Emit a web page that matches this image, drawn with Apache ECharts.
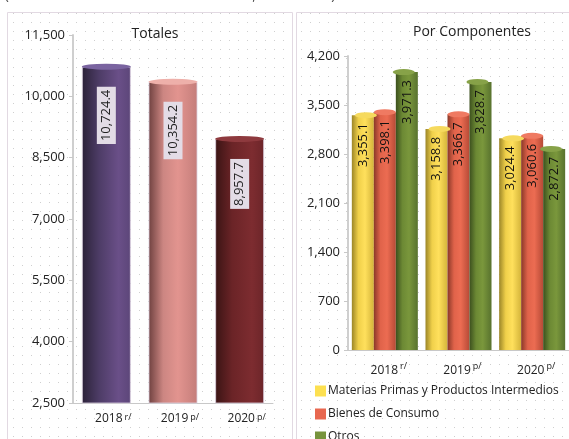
<!DOCTYPE html>
<html>
<head>
<meta charset="utf-8">
<script src="https://cdn.jsdelivr.net/npm/echarts@6/dist/echarts.min.js"></script>
<style>
  html, body { margin: 0; padding: 0; background: #fff; }
  #grafico { width: 569px; height: 439px; }
</style>
</head>
<body>
<div id="grafico"></div>
<script>
var anios = ['2018', '2019', '2020'];
var marcas = ['r/', 'p/', 'p/'];
var totales = [10724.4, 10354.2, 8957.7];
var materiasPrimas = [3355.1, 3158.8, 3024.4];
var bienesConsumo = [3398.1, 3366.7, 3060.6];
var otros = [3971.3, 3828.7, 2872.7];
var nombres = ['Materias Primas y Productos Intermedios', 'Bienes de Consumo', 'Otros'];

var fuente = 'Open Sans';

// patron de puntos del fondo
var patron = document.createElement('canvas');
patron.width = 9;
patron.height = 9;
var ctx = patron.getContext('2d');
ctx.fillStyle = '#cfcfcf';
ctx.fillRect(4, 4, 1, 1);

function formato(v) {
    return v.toLocaleString('en-US', { minimumFractionDigits: 1, maximumFractionDigits: 1 });
}

function cilindro(stops) {
    return {
        type: 'linear', x: 0, y: 0, x2: 1, y2: 0,
        colorStops: stops.map(function (s) { return { offset: s[0], color: s[1] }; })
    };
}

var coloresTotales = [
    cilindro([[0, '#2b2238'], [0.35, '#4d3c66'], [0.75, '#6a4f88'], [1, '#5c4679']]),
    cilindro([[0, '#6e403f'], [0.3, '#cc8682'], [0.6, '#e2948f'], [1, '#c47d7a']]),
    cilindro([[0, '#3a1414'], [0.35, '#6b2427'], [0.75, '#7d2c30'], [1, '#6c2529']])
];
var tapasTotales = ['#7a64a0', '#eeb0aa', '#8e3a3e'];

var colYellow = cilindro([[0, '#9c8628'], [0.3, '#f0d04a'], [0.6, '#ffe05c'], [1, '#d4b43a']]);
var colRed = cilindro([[0, '#8a3828'], [0.3, '#e0634a'], [0.6, '#ec6c52'], [1, '#b64a36']]);
var colGreen = cilindro([[0, '#3c501e'], [0.3, '#6c8934'], [0.6, '#7a973c'], [1, '#58722e']]);

function etiquetaEje(offsetSup) {
    return {
        interval: 0,
        color: '#222',
        fontFamily: fuente,
        fontSize: 12,
        margin: 10,
        formatter: function (v, i) { return '{a|' + v + '}{b|' + marcas[i] + '}'; },
        rich: {
            a: { fontFamily: fuente, fontSize: 12, color: '#222' },
            b: { fontFamily: fuente, fontSize: 9, color: '#222', padding: [0, 0, offsetSup, 2] }
        }
    };
}

function serieComp(nombre, datos, color, tapa) {
    return [{
        name: nombre,
        type: 'bar',
        xAxisIndex: 1,
        yAxisIndex: 1,
        barWidth: 22,
        barGap: '0%',
        data: datos,
        itemStyle: { color: color },
        label: {
            show: true,
            position: 'insideTop',
            rotate: 90,
            align: 'right',
            verticalAlign: 'middle',
            distance: 8,
            color: '#111',
            fontFamily: fuente,
            fontSize: 13,
            formatter: function (p) { return formato(p.value); }
        }
    }, {
        name: nombre,
        type: 'pictorialBar',
        xAxisIndex: 1,
        yAxisIndex: 1,
        symbol: 'circle',
        symbolSize: [22, 6],
        symbolPosition: 'end',
        symbolOffset: [0, '-50%'],
        barGap: '0%',
        z: 3,
        data: datos,
        itemStyle: { color: tapa },
        legendHoverLink: false,
        silent: true
    }];
}

var dom = document.getElementById('grafico');
var myChart = echarts.init(dom);

var option = {
    backgroundColor: '#fff',
    animation: false,
    graphic: [
        { type: 'rect', z: -10, shape: { x: 7.5, y: 12.5, width: 285, height: 440 },
          style: { fill: { image: patron, repeat: 'repeat' }, stroke: '#e2d9e2', lineWidth: 1 } },
        { type: 'rect', z: -10, shape: { x: 296.5, y: 12.5, width: 280, height: 440 },
          style: { fill: { image: patron, repeat: 'repeat' }, stroke: '#e2d9e2', lineWidth: 1 } },
        { type: 'text', z: -5, left: 5, top: -10,
          style: { text: '(En millones de dólares estadounidenses, valores FOB)', fill: '#444', font: '13px ' + fuente } }
    ],
    title: [
        { text: 'Totales', left: 150, top: 22, textAlign: 'center',
          textStyle: { fontFamily: fuente, fontSize: 14, fontWeight: 'normal', color: '#222' } },
        { text: 'Por Componentes', left: 467, top: 20, textAlign: 'center',
          textStyle: { fontFamily: fuente, fontSize: 14, fontWeight: 'normal', color: '#222' } }
    ],
    legend: {
        orient: 'vertical',
        left: 315,
        top: 385,
        height: 90,
        itemWidth: 11,
        itemHeight: 11,
        itemGap: 11,
        icon: 'rect',
        padding: 0,
        textStyle: { fontFamily: fuente, fontSize: 12, color: '#222', padding: [0, 0, 0, -3] },
        data: [
            { name: nombres[0], itemStyle: { color: '#fde050' } },
            { name: nombres[1], itemStyle: { color: '#e8674f' } },
            { name: nombres[2], itemStyle: { color: '#77933c' } }
        ]
    },
    grid: [
        { left: 73, top: 35, right: 296, bottom: 36 },
        { left: 348, top: 56, right: -1, bottom: 89 }
    ],
    xAxis: [
        {
            type: 'category', gridIndex: 0, data: anios,
            axisLine: { lineStyle: { color: '#c8c8c8' } },
            axisTick: { length: 5, lineStyle: { color: '#c8c8c8' } },
            axisLabel: Object.assign(etiquetaEje(3), { padding: [0, 0, 0, 14] })
        },
        {
            type: 'category', gridIndex: 1, data: anios,
            axisLine: { lineStyle: { color: '#c8c8c8' } },
            axisTick: { length: 5, lineStyle: { color: '#c8c8c8' } },
            axisLabel: Object.assign(etiquetaEje(8), { margin: 12, padding: [0, 0, 0, 8] })
        }
    ],
    yAxis: [
        {
            type: 'value', gridIndex: 0, min: 2500, max: 11500, interval: 1500,
            axisLine: { show: true, lineStyle: { color: '#cfcfcf', width: 2 } },
            axisTick: { show: true, length: 4, lineStyle: { color: '#c8c8c8' } },
            splitLine: { show: false },
            axisLabel: { color: '#222', fontFamily: fuente, fontSize: 13, margin: 8 }
        },
        {
            type: 'value', gridIndex: 1, min: 0, max: 4200, interval: 700,
            axisLine: { show: true, lineStyle: { color: '#cfcfcf', width: 2 } },
            axisTick: { show: true, length: 4, lineStyle: { color: '#c8c8c8' } },
            splitLine: { show: false },
            axisLabel: { color: '#222', fontFamily: fuente, fontSize: 13, margin: 8 }
        }
    ],
    series: [
        {
            name: 'Totales',
            type: 'bar',
            xAxisIndex: 0,
            yAxisIndex: 0,
            barWidth: 49,
            data: totales.map(function (v, i) {
                return { value: v, itemStyle: { color: coloresTotales[i] } };
            }),
            itemStyle: { borderColor: 'rgba(220,210,225,0.8)', borderWidth: 1 },
            label: {
                show: true,
                position: 'insideTop',
                rotate: 90,
                align: 'right',
                verticalAlign: 'middle',
                distance: 20,
                color: '#222',
                fontFamily: fuente,
                fontSize: 13,
                backgroundColor: '#e3dce6',
                padding: [3, 3, 3, 3],
                formatter: function (p) { return formato(p.value); }
            }
        },
        {
            name: 'TotalesTapa',
            type: 'pictorialBar',
            xAxisIndex: 0,
            yAxisIndex: 0,
            symbol: 'circle',
            symbolSize: [49, 6],
            symbolPosition: 'end',
            symbolOffset: [0, '-50%'],
            z: 3,
            silent: true,
            data: totales.map(function (v, i) {
                return { value: v, itemStyle: { color: tapasTotales[i] } };
            })
        }
    ]
        .concat(serieComp(nombres[0], materiasPrimas, colYellow, '#f6da5e'))
        .concat(serieComp(nombres[1], bienesConsumo, colRed, '#ef7a62'))
        .concat(serieComp(nombres[2], otros, colGreen, '#87a248'))
};

if (option && typeof option === "object") {
    myChart.setOption(option, true);
}
</script>
</body>
</html>
